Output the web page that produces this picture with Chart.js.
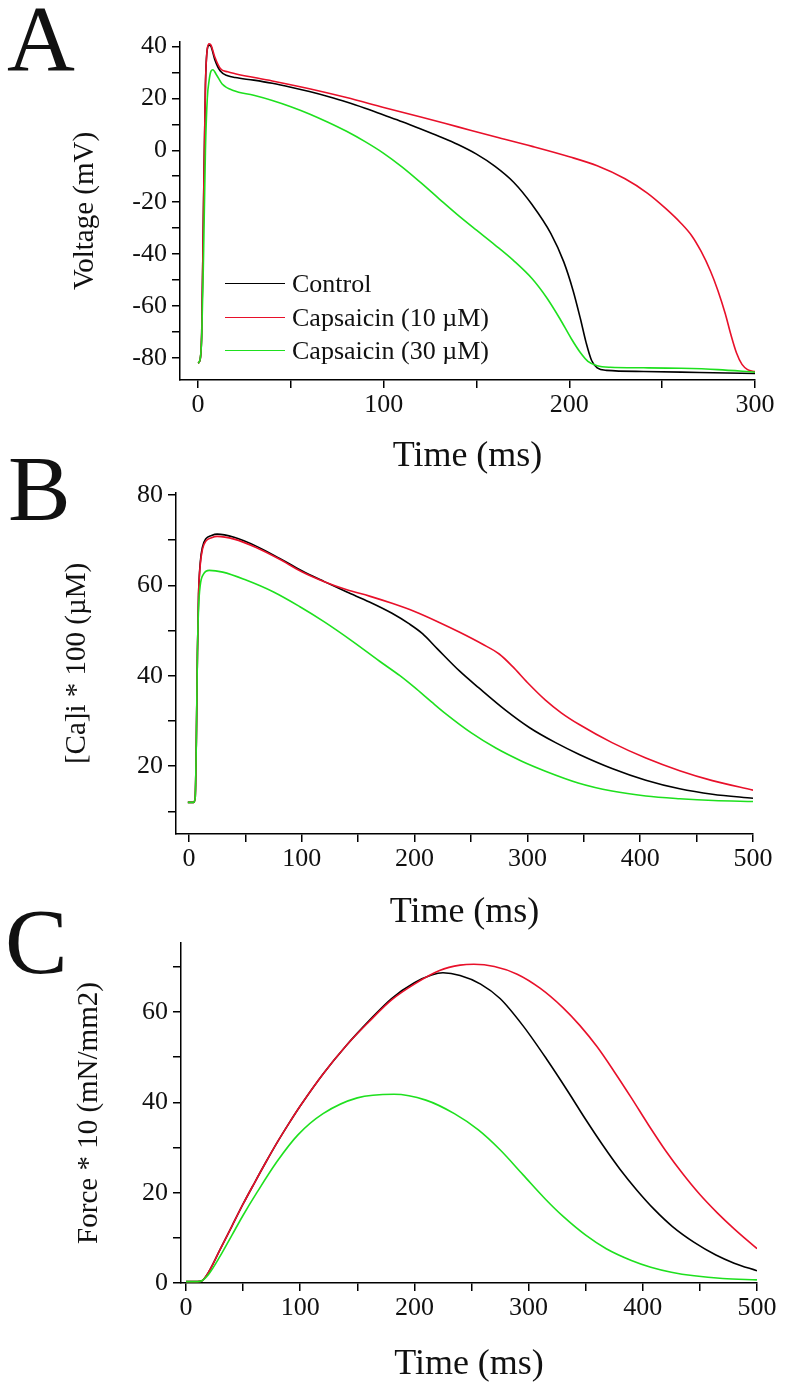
<!DOCTYPE html>
<html>
<head>
<meta charset="utf-8">
<script src="https://cdn.jsdelivr.net/npm/chart.js@4.4.0/dist/chart.umd.min.js"></script>
<style>
  body { margin: 0; background: #fff; }
  #page { position: relative; width: 790px; height: 1392px; overflow: hidden;
          font-family: "Liberation Serif", "Times New Roman", serif; color: #111; }
  #page canvas { position: absolute; left: 0; top: 0; }
  .letter { position: absolute; font-size: 94px; line-height: 94px; }
  #legendA { position: absolute; left: 225px; top: 267px; font-size: 26px; }
  .row { display: flex; align-items: center; height: 33.5px; line-height: 33px; white-space: nowrap; }
  .swatch { width: 60px; height: 0; border-top: 1.6px solid; margin-right: 7px; }
</style>
</head>
<body>
<div id="page">
  <canvas id="chartA" width="790" height="1392"></canvas>
  <canvas id="chartB" width="790" height="1392"></canvas>
  <canvas id="chartC" width="790" height="1392"></canvas>
  <div class="letter" style="left:7px;top:-9px;">A</div>
  <div class="letter" style="left:8px;top:441px;">B</div>
  <div class="letter" style="left:5px;top:894px;">C</div>
  <div id="legendA"></div>
</div>
<script>
// series names and colours
const seriesNames = ['Control', 'Capsaicin (10 \u00b5M)', 'Capsaicin (30 \u00b5M)'];
const seriesColors = ['#000000', '#e8102a', '#1ee01e'];

// #A - voltage (mV) vs time (ms)
const tControlA = [0, 1, 2, 3, 4, 5, 6, 7, 9, 12, 16, 20, 30, 40, 50, 60, 70, 80, 90, 100, 110, 120, 130, 140, 150, 160, 170, 180, 190, 197, 202, 206, 209, 212, 215, 220, 240, 270, 300];
const vControlA = [-82, -81, -70, -20, 25, 39, 40.5, 40, 35, 30.5, 28.7, 28, 27, 25.8, 24.3, 22.6, 20.7, 18.6, 16.2, 13.6, 11, 8.2, 5.3, 2.2, -1.5, -6.2, -12.3, -21, -32, -43, -54, -65, -74, -81, -83.8, -84.8, -85.2, -85.6, -86];
const tCaps10A = [0, 1, 2, 3, 4, 5, 6, 7, 9, 12, 16, 20, 40, 60, 80, 100, 120, 140, 160, 180, 200, 215, 230, 242, 252, 260, 266, 271, 276, 280, 284, 287, 290, 293, 296, 300];
const vCaps10A = [-82, -81, -70, -20, 25, 39, 41, 40.5, 36, 31.5, 30.2, 29.5, 26.7, 23.7, 20.3, 16.5, 12.8, 9, 5.2, 1.5, -2.5, -6, -11, -16.5, -22.5, -28, -33, -39, -46.5, -54, -63, -71, -78, -82.5, -84.5, -85.3];
const tCaps30A = [0, 1, 2, 3, 4, 5, 6, 7, 8, 10, 13, 19, 30, 40, 50, 60, 70, 80, 90, 100, 110, 120, 130, 140, 150, 160, 170, 180, 188, 195, 201, 206, 210, 215, 222, 240, 260, 280, 300];
const vCaps30A = [-82, -81, -72, -40, 0, 20, 27, 30.5, 31, 29, 25.5, 23, 21.2, 19.2, 16.8, 14, 10.8, 7.3, 3.3, -1.2, -6.5, -12.5, -18.8, -25, -30.8, -36.5, -42.5, -49.5, -57, -65, -72.5, -78, -81.3, -83, -83.6, -83.8, -84, -84.5, -85.5];

// #B - [Ca]i * 100 (uM) vs time (ms)
const tControlB = [-1, 4, 5.5, 6.5, 7.5, 8.5, 10, 12, 15, 20, 25, 40, 60, 80, 100, 120, 140, 160, 180, 195, 207, 220, 240, 257, 280, 302, 325, 346, 375, 405, 435, 464, 500];
const vControlB = [12, 12, 13, 25, 45, 58, 65, 68.5, 70.3, 71, 71.3, 70.6, 68.6, 66, 63.2, 60.8, 58.5, 56.3, 53.8, 51.5, 49.3, 46, 41, 37.3, 32.5, 28.5, 25.2, 22.6, 19.5, 16.9, 15, 13.8, 12.9];
const tCaps10B = [-1, 4, 5.5, 6.5, 7.5, 8.5, 10, 12, 15, 20, 25, 40, 60, 80, 100, 120, 140, 160, 180, 200, 220, 240, 260, 275, 287, 300, 316, 330, 346, 375, 405, 435, 464, 500];
const vCaps10B = [12, 12, 13, 25, 45, 58, 64.5, 68, 69.8, 70.5, 70.8, 70.2, 68.3, 65.8, 63, 60.8, 59, 57.6, 56, 54.2, 52, 49.6, 47, 44.8, 42, 38.5, 34.6, 31.8, 29.2, 25.2, 21.8, 19, 16.8, 14.7];
const tCaps30B = [-1, 4, 5.5, 6.5, 7.5, 8.5, 10, 13, 18, 30, 50, 75, 98, 120, 145, 169, 187, 200, 215, 228, 250, 272, 295, 316, 345, 375, 405, 435, 465, 500];
const vCaps30B = [12, 12, 13, 25, 45, 55, 60, 62.5, 63.3, 62.9, 61.2, 58.5, 55.3, 51.9, 47.6, 43.2, 40, 37.4, 34.2, 31.5, 27.4, 24, 21.1, 18.9, 16.3, 14.5, 13.4, 12.8, 12.4, 12.2];

// #C - force * 10 (mN/mm2) vs time (ms)
const tControlC = [0, 10, 14, 20, 30, 40, 50, 60, 70, 80, 90, 100, 120, 140, 160, 180, 200, 215, 225, 240, 258, 275, 295, 316, 335, 350, 365, 380, 395, 410, 426, 445, 464, 480, 500];
const vControlC = [0.3, 0.3, 0.5, 2.5, 7.5, 12.5, 17.5, 22.2, 26.8, 31.2, 35.3, 39.2, 46.3, 52.5, 58, 63, 66.5, 68.2, 68.7, 68.1, 66.2, 63, 57, 49.5, 42.2, 36.2, 30.5, 25.2, 20.5, 16.3, 12.5, 9, 6.2, 4.4, 2.7];
const tCaps10C = [0, 10, 14, 20, 30, 40, 50, 60, 70, 80, 90, 100, 120, 140, 160, 180, 200, 222, 240, 252, 270, 290, 310, 330, 345, 360, 375, 390, 405, 420, 435, 450, 465, 480, 500];
const vCaps10C = [0.3, 0.3, 0.5, 2.5, 7.5, 12.5, 17.5, 22.2, 26.8, 31.2, 35.3, 39.2, 46.3, 52.5, 57.8, 62.7, 66.2, 69.2, 70.4, 70.6, 70.1, 68.4, 65.3, 61, 57, 52.3, 46.8, 41, 35, 29.3, 24.2, 19.6, 15.6, 12, 7.6];
const tCaps30C = [0, 10, 14, 20, 30, 40, 50, 62, 80, 98, 120, 150, 182, 210, 235, 256, 275, 295, 315, 330, 350, 368, 390, 407, 425, 445, 470, 500];
const vCaps30C = [0.3, 0.3, 0.5, 2, 6, 10.5, 15, 20, 27, 32.8, 37.5, 41, 41.8, 40.5, 37.5, 33.9, 29.5, 24, 18.5, 14.8, 10.6, 7.6, 5, 3.5, 2.4, 1.6, 1, 0.7];

function pts(t, v) {
    return t.map((x, i) => ({ x: x, y: v[i] }));
}

function makeDatasets(series) {
    return series.map((s, i) => ({
        label: seriesNames[i],
        data: pts(s[0], s[1]),
        borderColor: seriesColors[i],
        borderWidth: 1.6,
        pointRadius: 0,
        cubicInterpolationMode: 'monotone',
        order: 3 - i
    }));
}

const tickFont = { family: 'Liberation Serif', size: 26 };

function panelConfig(p) {
    return {
        type: 'line',
        data: { datasets: makeDatasets(p.series) },
        options: {
            responsive: false,
            animation: false,
            events: [],
            layout: { padding: { left: 0, top: p.top, right: p.right, bottom: p.bottom } },
            plugins: { legend: { display: false }, tooltip: { enabled: false } },
            scales: {
                x: {
                    type: 'linear',
                    min: p.xMin, max: p.xMax,
                    afterFit: (s) => { s.height = p.xHeight; },
                    border: { color: '#000', width: 1.5 },
                    grid: { drawOnChartArea: false, tickLength: 8, color: '#000', lineWidth: 1.5 },
                    ticks: {
                        stepSize: 50, includeBounds: false, maxRotation: 0, autoSkip: false,
                        padding: 2, color: '#111', font: tickFont,
                        callback: (v) => (v % 100 === 0 ? String(v) : '')
                    },
                    title: {
                        display: true, text: 'Time (ms)', color: '#111',
                        font: { family: 'Liberation Serif', size: 36 },
                        padding: { top: 0, bottom: p.xTitlePad }
                    }
                },
                y: {
                    type: 'linear',
                    min: p.yMin, max: p.yMax,
                    afterFit: (s) => { s.width = p.yWidth; },
                    border: { color: '#000', width: 1.5 },
                    grid: { drawOnChartArea: false, tickLength: 8, color: '#000', lineWidth: 1.5 },
                    ticks: {
                        stepSize: 10, includeBounds: false, autoSkip: false,
                        padding: 5, color: '#111', font: tickFont,
                        callback: (v) => (v % 20 === 0 ? String(v) : '')
                    },
                    title: {
                        display: true, text: p.yTitle, color: '#111',
                        font: { family: 'Liberation Serif', size: 29 },
                        padding: { top: p.yTitlePad, bottom: 0 }
                    }
                }
            }
        }
    };
}

const chartA = new Chart(document.getElementById('chartA'), panelConfig({
    series: [[tControlA, vControlA], [tCaps10A, vCaps10A], [tCaps30A, vCaps30A]],
    top: 42, right: 35, bottom: 912, xHeight: 100, yWidth: 180,
    xMin: -9.7, xMax: 300, yMin: -88.5, yMax: 41.7,
    yTitle: 'Voltage (mV)', yTitlePad: 67.6, xTitlePad: 1.4
}));

new Chart(document.getElementById('chartB'), panelConfig({
    series: [[tControlB, vControlB], [tCaps10B, vCaps10B], [tCaps30B, vCaps30B]],
    top: 493, right: 37, bottom: 457, xHeight: 101, yWidth: 176,
    xMin: -11.5, xMax: 500, yMin: 5, yMax: 80.4,
    yTitle: '[Ca]i * 100 (\u00b5M)', yTitlePad: 59.6, xTitlePad: 0.4
}));

new Chart(document.getElementById('chartC'), panelConfig({
    series: [[tControlC, vControlC], [tCaps10C, vCaps10C], [tCaps30C, vCaps30C]],
    top: 943, right: 33, bottom: 0, xHeight: 109, yWidth: 181,
    xMin: -4.4, xMax: 500, yMin: 0, yMax: 75.3,
    yTitle: 'Force * 10 (mN/mm2)', yTitlePad: 71.6, xTitlePad: 5.4
}));

// legend for panel A, built from the datasets
const legendBox = document.getElementById('legendA');
chartA.data.datasets.forEach((ds) => {
    const row = document.createElement('div');
    row.className = 'row';
    const sw = document.createElement('span');
    sw.className = 'swatch';
    sw.style.borderColor = ds.borderColor;
    const txt = document.createElement('span');
    txt.textContent = ds.label;
    row.appendChild(sw);
    row.appendChild(txt);
    legendBox.appendChild(row);
});
</script>
</body>
</html>
